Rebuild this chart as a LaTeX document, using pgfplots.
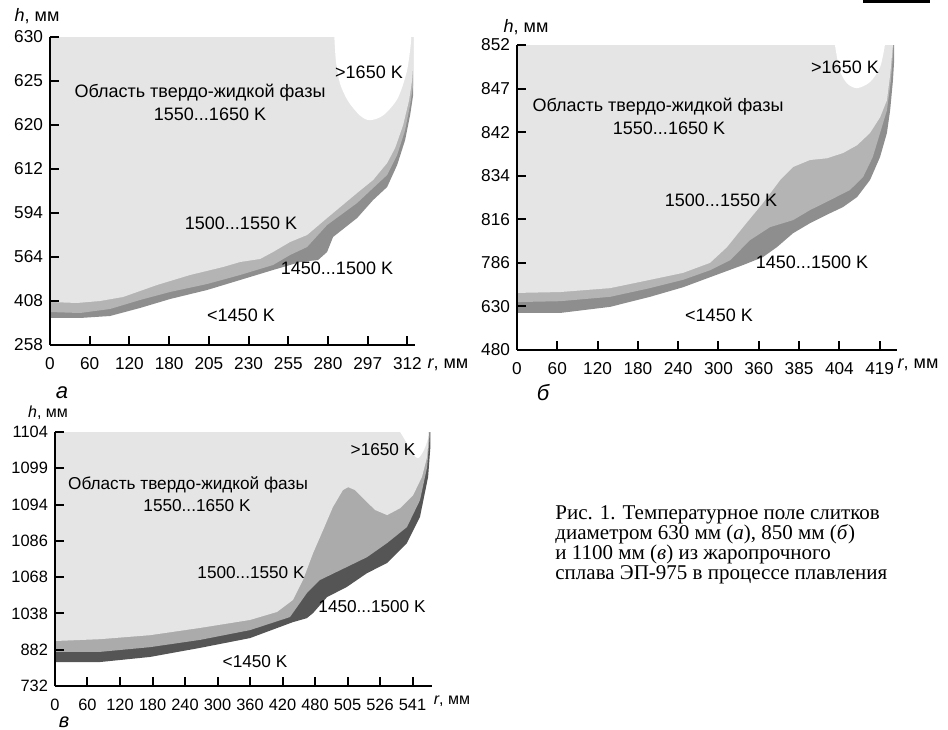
\documentclass[border=0pt]{standalone}
\usepackage{fontspec}
\setmainfont{Liberation Sans}
\newfontfamily\capfont{Liberation Serif}
\usepackage{pgfplots}
\pgfplotsset{compat=1.18}

\definecolor{lightg}{HTML}{E5E5E5}
\definecolor{midg}{HTML}{B4B4B4}
\definecolor{darkg}{HTML}{8E8E8E}
\definecolor{midgc}{HTML}{ABABAB}
\definecolor{darkgc}{HTML}{555555}

\pgfplotsset{
  panel/.style={
    scale only axis,
    anchor=south west,
    axis x line=bottom, axis y line=left,
    axis line style={-, line width=1.4pt},
    tick style={line width=1pt, black},
    major tick length=4.5pt,
    tick align=inside,
    ymin=0, ymax=7, ytick={0,1,2,3,4,5,6,7},
    xmin=0,
    tick label style={font=\fontsize{8.6}{9}\selectfont},
    xticklabel style={yshift=-2.5pt},
    /pgf/number format/assume math mode=true,
    axis on top,
  },
}

\begin{document}
\begin{tikzpicture}
\path[use as bounding box] (0pt,0pt) rectangle (474pt,364.5pt);
\fill[black] (431.5pt,364.5pt) rectangle (465pt,363pt);

% ---------------- panel a ----------------
\begin{axis}[panel, at={(25pt,192pt)}, width=182.5pt, height=154pt,
  xmax=9.19, xtick={0,1,2,3,4,5,6,7,8,9},
  xticklabels={0,60,120,180,205,230,255,280,297,312},
  yticklabels={258,408,564,594,612,620,625,630}]
\addplot[fill=darkg, draw=none] coordinates {
(0,7) (0,0.614) (0.756,0.614) (1.511,0.659) (2.267,0.841) (3.023,1.045) (3.955,1.250)
(4.786,1.477) (5.617,1.705) (6.297,1.886) (6.751,1.932) (6.977,2.114) (7.128,2.455)
(7.733,2.886) (8.136,3.295) (8.489,3.591) (8.741,4.091) (8.942,4.659) (9.068,5.227)
(9.144,5.682) (9.144,7)} -- cycle;
\addplot[fill=midg, draw=none] coordinates {
(0,7) (0,0.750) (0.756,0.727) (1.511,0.818) (2.267,1.023) (3.023,1.205) (3.955,1.386)
(4.786,1.591) (5.617,1.818) (6.045,2.045) (6.474,2.227) (6.977,2.727) (7.733,3.227)
(8.136,3.568) (8.489,3.864) (8.741,4.318) (8.942,4.886) (9.068,5.455) (9.144,5.909)
(9.144,7)} -- cycle;
\addplot[fill=lightg, draw=none] coordinates {
(0,7) (0,0.977) (0.680,0.955) (1.259,1.000) (1.839,1.091) (2.695,1.364) (3.526,1.591)
(4.358,1.773) (4.786,1.886) (5.290,1.955) (5.617,2.114) (6.045,2.341) (6.474,2.500)
(6.977,2.886) (7.733,3.455) (8.136,3.750) (8.489,4.136) (8.690,4.477) (8.892,5.000)
(9.043,5.568) (9.118,6.023) (9.144,6.364) (9.144,7)} -- cycle;
\addplot[fill=white, draw=none, smooth] coordinates {
(7.16,7.0) (7.20,6.45) (7.30,5.95) (7.50,5.55) (7.80,5.22) (8.05,5.11) (8.39,5.22)
(8.75,5.60) (8.98,6.20) (9.08,6.80) (9.09,7.0)} -- cycle;
\end{axis}

% ---------------- panel b ----------------
\begin{axis}[panel, at={(258.5pt,189.5pt)}, width=190pt, height=152.5pt,
  xmax=9.43, xtick={0,1,2,3,4,5,6,7,8,9},
  xticklabels={0,60,120,180,240,300,360,385,404,419},
  yticklabels={480,630,786,816,834,842,847,852}]
\addplot[fill=darkg, draw=none] coordinates {
(0,7) (0,0.85) (1.07,0.85) (2.31,0.99) (3.30,1.22) (4.12,1.44) (4.79,1.67) (5.61,1.95)
(6.10,2.13) (6.45,2.36) (6.85,2.68) (7.27,2.91) (7.77,3.14) (8.09,3.28) (8.44,3.51)
(8.76,3.90) (9.01,4.43) (9.18,4.98) (9.26,5.50) (9.33,6.19) (9.36,6.65) (9.36,7)} -- cycle;
\addplot[fill=midg, draw=none] coordinates {
(0,7) (0,1.10) (1.07,1.12) (2.31,1.22) (3.30,1.42) (4.12,1.61) (4.79,1.83) (5.29,2.06)
(5.78,2.52) (6.28,2.82) (6.85,2.98) (7.27,3.21) (7.77,3.44) (8.26,3.67) (8.59,3.97)
(8.83,4.43) (9.01,4.98) (9.18,5.50) (9.28,6.19) (9.33,6.77) (9.34,7)} -- cycle;
\addplot[fill=lightg, draw=none] coordinates {
(0,7) (0,1.31) (1.07,1.33) (2.31,1.42) (3.30,1.61) (4.12,1.77) (4.79,2.00) (5.21,2.36)
(5.61,2.82) (6.10,3.37) (6.53,3.90) (6.85,4.20) (7.27,4.36) (7.69,4.40) (8.09,4.52)
(8.44,4.70) (8.76,4.98) (9.01,5.34) (9.18,5.73) (9.26,6.31) (9.33,7.0)} -- cycle;
\addplot[fill=white, draw=none, smooth] coordinates {
(7.89,7.0) (8.01,6.42) (8.19,6.12) (8.44,6.01) (8.76,6.15) (9.01,6.49) (9.13,7.0)} -- cycle;
\end{axis}

% ---------------- panel c ----------------
\begin{axis}[panel, at={(27.5pt,21.5pt)}, width=188.5pt, height=127pt,
  xmax=11.6, xtick={0,1,2,3,4,5,6,7,8,9,10,11},
  xticklabels={0,60,120,180,240,300,360,420,480,505,526,541},
  yticklabels={732,882,1038,1068,1086,1094,1099,1104},
  tick label style={font=\fontsize{8.2}{9}\selectfont},
  xticklabel style={yshift=-0.5pt}]
\addplot[fill=darkgc, draw=none] coordinates {
(0,7) (0,0.66) (1.38,0.66) (2.92,0.80) (4.46,1.05) (6.00,1.32) (7.32,1.76) (7.75,1.87)
(7.94,2.01) (8.37,2.45) (8.98,2.73) (9.60,3.11) (10.22,3.39) (10.83,3.94) (11.23,4.66)
(11.48,5.76) (11.55,6.58) (11.55,7)} -- cycle;
\addplot[fill=midgc, draw=none] coordinates {
(0,7) (0,0.94) (1.38,0.94) (2.92,1.07) (4.46,1.27) (6.00,1.54) (7.23,1.90) (7.75,2.56)
(8.15,2.92) (8.98,3.28) (9.60,3.55) (10.22,3.94) (10.83,4.38) (11.23,5.12) (11.45,6.03)
(11.52,6.78) (11.53,7)} -- cycle;
\addplot[fill=lightg, draw=none] coordinates {
(0,7) (0,1.24) (1.38,1.29) (2.92,1.40) (4.46,1.60) (6.00,1.82) (6.83,2.04) (7.32,2.37)
(7.63,2.92) (7.94,3.66) (8.25,4.30) (8.55,4.93) (8.86,5.40) (9.02,5.48) (9.23,5.40)
(9.54,5.12) (9.85,4.85) (10.22,4.71) (10.62,4.90) (11.02,5.26) (11.29,5.76) (11.45,6.31)
(11.51,7.0)} -- cycle;
\addplot[fill=white, draw=none, smooth] coordinates {
(10.62,7.0) (10.77,6.78) (10.98,6.45) (11.17,6.28) (11.35,6.50) (11.48,6.83) (11.48,7.0)} -- cycle;
\end{axis}

% ---------------- texts ----------------
\begin{scope}[every node/.style={font=\fontsize{9}{10}\selectfont, inner sep=0pt}]
% a
\node at (100pt,318pt) {Область твердо-жидкой фазы};
\node at (105pt,307.5pt) {1550...1650 K};
\node at (184.5pt,328.5pt) {>1650 K};
\node at (120.5pt,253pt) {1500...1550 K};
\node at (168.5pt,230.5pt) {1450...1500 K};
\node at (120.5pt,207pt) {<1450 K};
\node at (18.5pt,356.5pt) {\textit{h}, мм};
\node at (224pt,182pt) {\textit{r}, мм};
\node[font=\fontsize{11}{12}\selectfont\itshape] at (31pt,168pt) {а};
% b
\node at (329pt,311pt) {Область твердо-жидкой фазы};
\node at (334.5pt,300.5pt) {1550...1650 K};
\node at (422.5pt,331pt) {>1650 K};
\node at (360.5pt,264.5pt) {1500...1550 K};
\node at (406pt,233.5pt) {1450...1500 K};
\node at (359.5pt,207pt) {<1450 K};
\node at (263pt,351pt) {\textit{h}, мм};
\node at (459pt,182pt) {\textit{r}, мм};
\node[font=\fontsize{11}{12}\selectfont\itshape] at (271.5pt,168pt) {б};
% c
\node[font=\fontsize{8.6}{9}\selectfont] at (94pt,122pt) {Область твердо-жидкой фазы};
\node[font=\fontsize{8.6}{9}\selectfont] at (98.5pt,111.5pt) {1550...1650 K};
\node[font=\fontsize{8.6}{9}\selectfont] at (191.5pt,139.5pt) {>1650 K};
\node[font=\fontsize{8.6}{9}\selectfont] at (125.5pt,78pt) {1500...1550 K};
\node[font=\fontsize{8.6}{9}\selectfont] at (186pt,61pt) {1450...1500 K};
\node[font=\fontsize{8.6}{9}\selectfont] at (127.5pt,33.5pt) {<1450 K};
\node[font=\fontsize{8}{9}\selectfont] at (24pt,158pt) {\textit{h}, мм};
\node[font=\fontsize{8}{9}\selectfont] at (226pt,14pt) {\textit{r}, мм};
\node[font=\fontsize{10}{11}\selectfont\itshape] at (32pt,3.2pt) {в};
\end{scope}

% caption
\node[anchor=north west, align=left, inner sep=0pt,
  font=\capfont\fontsize{10.5}{10}\selectfont] at (277.5pt,112pt)
{Рис. 1. Температурное поле слитков\\
диаметром 630 мм (\textit{а}), 850 мм (\textit{б})\\
и 1100 мм (\textit{в}) из жаропрочного\\
сплава ЭП-975 в процессе плавления};
\end{tikzpicture}
\end{document}
